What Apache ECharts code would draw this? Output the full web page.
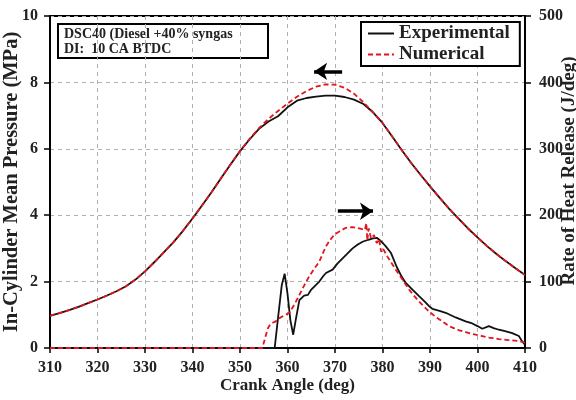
<!DOCTYPE html>
<html>
<head>
<meta charset="utf-8">
<script src="https://cdn.jsdelivr.net/npm/echarts@6/dist/echarts.min.js"></script>
<style>html,body{margin:0;padding:0;background:#fff;}#c{width:576px;height:400px;}</style>
</head>
<body>
<div id="c"></div>
<script>
// ---- data ----
var xTicks = [310, 320, 330, 340, 350, 360, 370, 380, 390, 400, 410];
var pressureAngles = [310,312,314,316,318,320,322,324,326,328,330,332,334,336,338,340,342,344,346,348,350,352,354,356,358,360,362,364,366,368,370,372,374,376,378,380,382,384,386,388,390,392,394,396,398,400,402,404,406,408,410];
var pressureNumerical = [0.97,1.05,1.14,1.24,1.35,1.46,1.58,1.71,1.86,2.06,2.31,2.59,2.89,3.19,3.53,3.90,4.29,4.69,5.11,5.53,5.93,6.30,6.62,6.90,7.14,7.36,7.57,7.74,7.87,7.94,7.93,7.84,7.66,7.40,7.10,6.78,6.38,5.97,5.58,5.22,4.87,4.53,4.20,3.90,3.60,3.33,3.07,2.83,2.61,2.40,2.20];
var pressureExperimental = [0.97,1.05,1.14,1.24,1.35,1.46,1.58,1.71,1.86,2.06,2.31,2.59,2.89,3.19,3.53,3.90,4.29,4.69,5.11,5.53,5.93,6.28,6.60,6.82,6.98,7.25,7.45,7.53,7.57,7.60,7.60,7.56,7.48,7.35,7.10,6.78,6.38,5.97,5.58,5.22,4.87,4.53,4.20,3.90,3.60,3.33,3.07,2.83,2.61,2.40,2.20];

var hrrExpAngles = [310,357.3,358,358.8,359.4,360,360.6,361.2,361.8,362.5,363.5,364.3,365,366,366.7,367.5,368.1,369.5,370.5,371.6,372.6,373.7,374.8,375.8,377,378,378.8,379.5,380.2,380.7,381.8,383,384,384.9,386.3,387.7,389,389.8,390.5,392,393.3,395.4,397.5,398.9,400,401,402.4,403.4,404.5,406,407.3,408.7,409.4,410];
var hrrExperimental = [0,0,45,95,112,82,42,20,45,72,79,80,88,95,100,108,113,118,127,135,142,150,156,160,163,165,166,162,157,153,143,122,108,98,88,78,69,63,59,56,53,46,40,37,33,29,33,30,27.5,25,22.5,18,10,5];

var hrrNumAngles = [310,354.7,355.4,355.9,356.4,356.9,357.5,358.3,359.3,360.4,361.5,362.5,363.5,364.5,365.5,366.7,367.4,368.1,369,369.9,371,372.3,373.7,375.1,376.3,376.6,376.8,377.1,377.6,378.2,378.8,379.3,379.7,380.1,381,382,382.8,384.2,385.6,386.6,387.7,388.8,389.8,391,392,393,394,395,396,397.5,398.5,399.6,401,402,403.2,404.5,406.5,408.7,410];
var hrrNumerical = [0,0,18,30,36,38,40,45,49,53,66,80,94,107,118,130,142,153,163,171,176,181,182,180,178,188,162,180,165,170,158,164,145,150,138,127,118,103,88,79,70,62,55,48,43,38,33,30,27,24,22,20,18,16,15,13.5,12,10.5,8];

var legendNames = ['Experimental', 'Numerical'];
var noteLines = ['DSC40 (Diesel +40% syngas', 'DI:  10 CA BTDC'];
var pressureArrow = [[371.5, 8.33], [365.6, 8.33]];
var hrrArrow = [[370.6, 206], [378.0, 206]];

function zip(a, b) { return a.map(function (v, i) { return [v, b[i]]; }); }

var FONT = 'Liberation Serif';
var RED = '#e3141c';
var chart = echarts.init(document.getElementById('c'), null, {renderer: 'canvas'});

var arrowStyle = function (pts) {
  return {
    silent: true, symbol: ['none', 'arrow'], symbolSize: [13, 13],
    label: {show: false},
    lineStyle: {color: '#000', width: 3.5, type: 'solid'},
    emphasis: {disabled: true},
    data: [[{coord: pts[0]}, {coord: pts[1]}]]
  };
};

chart.setOption({
  animation: false,
  backgroundColor: '#fff',
  grid: {left: 50, right: 51, top: 16, bottom: 52, containLabel: false, outerBoundsMode: 'none',
    show: true, borderColor: '#000', borderWidth: 2, backgroundColor: 'transparent'},
  legend: {
    data: legendNames, orient: 'vertical', left: 361, top: 22,
    itemWidth: 26, itemHeight: 14, itemGap: 2,
    padding: [2, 10, 2, 6],
    borderColor: '#000', borderWidth: 2, backgroundColor: '#fff',
    itemStyle: {opacity: 0},
    textStyle: {fontFamily: FONT, fontWeight: 'bold', fontSize: 19, color: '#222'}
  },
  xAxis: {
    type: 'value', min: 310, max: 410, interval: 10,
    name: 'Crank Angle (deg)', nameLocation: 'middle', nameGap: 29, nameMoveOverlap: false,
    nameTextStyle: {fontFamily: FONT, fontWeight: 'bold', fontSize: 17, color: '#222'},
    axisLine: {onZero: false, lineStyle: {color: '#000', width: 2}},
    axisTick: {inside: false, length: 5, lineStyle: {color: '#000', width: 1.5}},
    axisLabel: {fontFamily: FONT, fontWeight: 'bold', fontSize: 16, color: '#222', margin: 12,
      formatter: function (v) { return xTicks.indexOf(v) >= 0 ? String(v) : ''; }},
    splitLine: {show: true, lineStyle: {color: '#b0b0b0', type: [4, 4], width: 1}}
  },
  yAxis: [{
    type: 'value', min: 0, max: 10, interval: 2, position: 'left',
    name: 'In-Cylinder Mean Pressure (MPa)', nameLocation: 'middle', nameGap: 28, nameMoveOverlap: false,
    nameTextStyle: {fontFamily: FONT, fontWeight: 'bold', fontSize: 20.5, color: '#222'},
    axisLine: {show: true, lineStyle: {color: '#000', width: 2}},
    axisTick: {show: true, inside: false, length: 6, lineStyle: {color: '#000', width: 1.5}},
    axisLabel: {fontFamily: FONT, fontWeight: 'bold', fontSize: 16, color: '#222', margin: 12},
    splitLine: {show: true, lineStyle: {color: '#b0b0b0', type: [4, 4], width: 1}}
  }, {
    type: 'value', min: 0, max: 500, interval: 100, position: 'right',
    name: 'Rate of Heat Release (J/deg)', nameLocation: 'middle', nameGap: 35, nameMoveOverlap: false,
    nameTextStyle: {fontFamily: FONT, fontWeight: 'bold', fontSize: 19, color: '#222', padding: [0, 0, 0, 22]},
    axisLine: {show: true, lineStyle: {color: '#000', width: 2}},
    axisTick: {show: true, inside: false, length: 6, lineStyle: {color: '#000', width: 1.5}},
    axisLabel: {fontFamily: FONT, fontWeight: 'bold', fontSize: 16, color: '#222', margin: 14},
    splitLine: {show: false}
  }],
  series: [{
    name: 'Experimental', type: 'line', yAxisIndex: 0, symbol: 'none', z: 3,
    data: zip(pressureAngles, pressureExperimental),
    lineStyle: {color: '#111', width: 1.8},
    itemStyle: {color: '#111'}
  }, {
    name: 'Numerical', type: 'line', yAxisIndex: 0, symbol: 'none', z: 4,
    data: zip(pressureAngles, pressureNumerical),
    lineStyle: {color: RED, width: 1.8, type: [5, 3]},
    itemStyle: {color: RED},
    markLine: arrowStyle(pressureArrow)
  }, {
    name: 'Experimental', type: 'line', yAxisIndex: 1, symbol: 'none', z: 3,
    data: zip(hrrExpAngles, hrrExperimental),
    lineStyle: {color: '#111', width: 1.8},
    itemStyle: {color: '#111'}
  }, {
    name: 'Numerical', type: 'line', yAxisIndex: 1, symbol: 'none', z: 4,
    data: zip(hrrNumAngles, hrrNumerical),
    lineStyle: {color: RED, width: 1.8, type: [5, 3]},
    itemStyle: {color: RED},
    markLine: arrowStyle(hrrArrow)
  }],
  graphic: [{
    type: 'group', left: 57, top: 23, z: 100,
    children: [{
      type: 'rect', shape: {x: 0, y: 0, width: 210, height: 34},
      style: {fill: '#fff', stroke: '#000', lineWidth: 2}
    }, {
      type: 'text', x: 6, y: 3,
      style: {text: noteLines[0], font: 'bold 14px "Liberation Serif"', fill: '#222'}
    }, {
      type: 'text', x: 6, y: 18,
      style: {text: noteLines[1], font: 'bold 14px "Liberation Serif"', fill: '#222'}
    }]
  }]
});
</script>
</body>
</html>
